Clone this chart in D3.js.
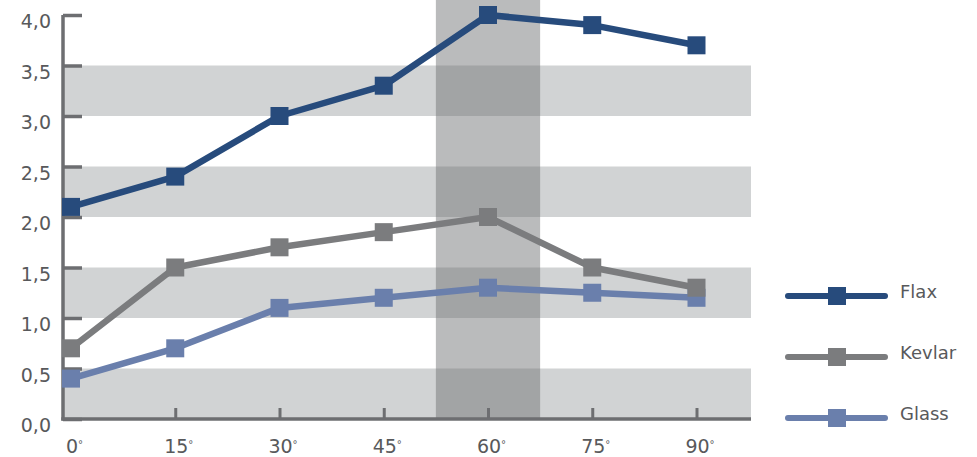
<!DOCTYPE html>
<html>
<head>
<meta charset="utf-8">
<script src="https://cdn.jsdelivr.net/npm/d3@7"></script>
<style>
  body { margin: 0; background: #fff; }
  svg { display: block; }
</style>
</head>
<body>
<div id="chart"></div>
<script>
// angle categories and values
var angles = [0, 15, 30, 45, 60, 75, 90];
var flax = [2.1, 2.4, 3.0, 3.3, 4.0, 3.9, 3.7];
var kevlar = [0.7, 1.5, 1.7, 1.85, 2.0, 1.5, 1.3];
var glass = [0.4, 0.7, 1.1, 1.2, 1.3, 1.25, 1.2];
var yTicks = [0, 0.5, 1, 1.5, 2, 2.5, 3, 3.5, 4];
var bandRanges = [[0, 0.5], [1, 1.5], [2, 2.5], [3, 3.5]];
var highlightAngle = 60;
var seriesNames = ["Flax", "Kevlar", "Glass"];

var outterWidth = 977;
var outterHeight = 457;
var margin = {top: 15, left: 63};
var width = 688;
var height = 404;
var axisColor = "#6d6e71";
var textColor = "#58595b";
var fontFamily = "'DejaVu Sans', sans-serif";
var colors = {Flax: "#274b7c", Kevlar: "#7b7c7e", Glass: "#6a7fac"};

var svg = d3.select("#chart").append("svg")
  .attr("width", outterWidth)
  .attr("height", outterHeight);

var g = svg.append("g")
  .attr("transform", "translate(" + margin.left + "," + margin.top + ")");

var x = d3.scaleLinear().domain([0, 90]).range([8, 633.5]);
var y = d3.scaleLinear().domain([0, 4]).range([height, 0]);

// grey horizontal bands
g.selectAll("rect.band").data(bandRanges).enter().append("rect")
  .attr("class", "band")
  .attr("x", 0)
  .attr("width", width)
  .attr("y", function(d) { return y(d[1]); })
  .attr("height", function(d) { return y(d[0]) - y(d[1]); })
  .style("fill", "#d1d3d4");

// highlighted 60 degree column
var step = x(15) - x(0);
g.append("rect")
  .attr("x", x(highlightAngle) - step / 2)
  .attr("width", step)
  .attr("y", -margin.top)
  .attr("height", height + margin.top)
  .style("fill", axisColor)
  .style("opacity", 0.47);

// y axis
var yAxis = g.append("g")
  .call(d3.axisLeft(y).tickValues(yTicks).tickSize(-19).tickPadding(12)
    .tickFormat(function(d) { return d3.format(".1f")(d).replace(".", ","); }));
yAxis.select(".domain").remove();
yAxis.selectAll(".tick line").attr("stroke", axisColor).attr("stroke-width", 3.5);
yAxis.selectAll(".tick text")
  .attr("dy", "0.68em")
  .attr("fill", textColor)
  .style("font-family", fontFamily)
  .style("font-size", "19px");

// x axis
var xAxis = g.append("g")
  .attr("transform", "translate(0," + height + ")")
  .call(d3.axisBottom(x).tickValues(angles).tickSize(-11).tickPadding(21)
    .tickFormat(function(d) { return d; }));
xAxis.select(".domain").remove();
xAxis.selectAll(".tick line").attr("stroke", axisColor).attr("stroke-width", 3)
  .style("display", function(d) { return d === 0 ? "none" : null; });
xAxis.selectAll(".tick text")
  .attr("dx", 3)
  .attr("fill", textColor)
  .style("font-family", fontFamily)
  .style("font-size", "19px")
  .append("tspan")
  .attr("dy", "-0.55em")
  .style("font-size", "10px")
  .text("°");

// axis lines
g.append("line")
  .attr("x1", 0).attr("x2", 0)
  .attr("y1", 0).attr("y2", height + 1.5)
  .attr("stroke", axisColor).attr("stroke-width", 3.5);
g.append("line")
  .attr("x1", -1.75).attr("x2", width)
  .attr("y1", height).attr("y2", height)
  .attr("stroke", axisColor).attr("stroke-width", 3.5);

// series
var series = [
  {name: "Glass", values: glass},
  {name: "Kevlar", values: kevlar},
  {name: "Flax", values: flax}
];

var line = d3.line()
  .x(function(d, i) { return x(angles[i]); })
  .y(function(d) { return y(d); });

var sq = 18;
series.forEach(function(s) {
  var sg = g.append("g");
  sg.append("path")
    .attr("d", line(s.values))
    .attr("fill", "none")
    .attr("stroke", colors[s.name])
    .attr("stroke-width", 6.5)
    .attr("stroke-linejoin", "round");
  sg.selectAll("rect").data(s.values).enter().append("rect")
    .attr("x", function(d, i) { return x(angles[i]) - sq / 2; })
    .attr("y", function(d) { return y(d) - sq / 2; })
    .attr("width", sq)
    .attr("height", sq)
    .style("fill", colors[s.name]);
});

// legend
var legendY = d3.scalePoint().domain(seriesNames).range([296, 418]);
var legend = svg.selectAll("g.legend").data(seriesNames).enter().append("g")
  .attr("class", "legend")
  .attr("transform", function(d) { return "translate(0," + legendY(d) + ")"; });
legend.append("line")
  .attr("x1", 788).attr("x2", 885)
  .attr("stroke", function(d) { return colors[d]; })
  .attr("stroke-width", 6)
  .attr("stroke-linecap", "round");
legend.append("rect")
  .attr("x", 837 - sq / 2).attr("y", -sq / 2)
  .attr("width", sq).attr("height", sq)
  .style("fill", function(d) { return colors[d]; });
legend.append("text")
  .attr("x", 900).attr("y", 2)
  .attr("fill", textColor)
  .style("font-family", fontFamily)
  .style("font-size", "18px")
  .text(function(d) { return d; });
</script>
</body>
</html>
